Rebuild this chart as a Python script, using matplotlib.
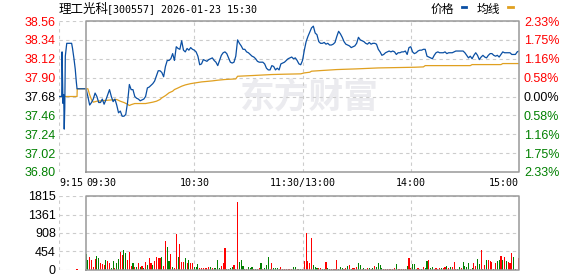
import matplotlib.pyplot as plt
from matplotlib.lines import Line2D

# ---------------- data ----------------
prev_close = 37.68
price_ticks = [36.80, 37.02, 37.24, 37.46, 37.68, 37.90, 38.12, 38.34, 38.56]
pct_labels = ["2.33%", "1.75%", "1.16%", "0.58%", "0.00%",
              "0.58%", "1.16%", "1.75%", "2.33%"]
vol_ticks = [0, 454, 908, 1361, 1815]

# minutes relative to 09:30 (lunch break removed), -15 = 9:15
time_ticks = [-15, 0, 60, 120, 180, 240]
time_labels = ["9:15", "09:30", "10:30", "11:30/13:00", "14:00", "15:00"]

# call auction 9:15-9:30
auction_t = [-15, -13.5, -13.3, -12.8, -12.4, -12.1, -11.8, -11.5, -10.7,
             -8.0, -7.5, -6.7, -6.0, -5.4, -5.0, 0]
auction_price = [37.68, 37.68, 38.20, 37.60, 37.70, 37.30, 37.55, 38.15, 38.30,
                 38.30, 38.24, 38.12, 38.00, 37.85, 37.77, 37.77]
auction_avg_t = [-15, -5.0, -4.9, 0]
auction_avg = [37.68, 37.68, 37.77, 37.77]
auction_vol_t = [-5]
auction_vol = [24]

# one price per minute, 09:30 .. 15:00
price = [
    37.77, 37.68, 37.58, 37.61, 37.65, 37.72, 37.68, 37.61, 37.61, 37.65,
    37.59, 37.64, 37.70, 37.76, 37.68, 37.62, 37.65, 37.58, 37.49, 37.51,
    37.45, 37.45, 37.47, 37.61, 37.82, 37.76, 37.76, 37.68, 37.66, 37.65,
    37.63, 37.64, 37.65, 37.68, 37.78, 37.79, 37.81, 37.83, 37.86, 37.92,
    37.98, 37.98, 37.96, 37.91, 38.03, 38.10, 38.10, 38.12, 38.18, 38.10,
    38.26, 38.24, 38.23, 38.33, 38.22, 38.20, 38.24, 38.22, 38.25, 38.23,
    38.22, 38.20, 38.15, 38.05, 38.06, 38.11, 38.10, 38.09, 38.11, 38.12,
    38.13, 38.10, 38.08, 38.04, 38.10, 38.16, 38.19, 38.20, 38.18, 38.13,
    38.08, 38.07, 38.08, 38.15, 38.34, 38.30, 38.27, 38.23, 38.23, 38.20,
    38.19, 38.17, 38.15, 38.14, 38.12, 38.09, 38.08, 38.08, 38.08, 38.06,
    38.01, 37.99, 37.99, 38.04, 38.03, 37.99, 38.01, 37.99, 38.06, 38.07,
    38.08, 38.10, 38.12, 38.13, 38.14, 38.12, 38.13, 38.10, 38.06, 38.05,
    38.10, 38.22, 38.32, 38.38, 38.43, 38.48, 38.50, 38.42, 38.40, 38.32,
    38.30, 38.30, 38.31, 38.29, 38.30, 38.28, 38.28, 38.29, 38.31, 38.38,
    38.44, 38.41, 38.37, 38.32, 38.29, 38.28, 38.27, 38.25, 38.26, 38.27,
    38.30, 38.37, 38.34, 38.33, 38.32, 38.30, 38.29, 38.31, 38.29, 38.30,
    38.30, 38.29, 38.23, 38.20, 38.16, 38.17, 38.19, 38.20, 38.21, 38.20,
    38.21, 38.20, 38.17, 38.19, 38.19, 38.20, 38.20, 38.21, 38.17, 38.25,
    38.26, 38.20, 38.18, 38.19, 38.21, 38.22, 38.22, 38.23, 38.23, 38.15,
    38.14, 38.13, 38.12, 38.16, 38.19, 38.20, 38.19, 38.19, 38.19, 38.20,
    38.18, 38.19, 38.19, 38.19, 38.20, 38.21, 38.21, 38.21, 38.21, 38.21,
    38.19, 38.16, 38.13, 38.15, 38.12, 38.16, 38.19, 38.16, 38.11, 38.14,
    38.16, 38.14, 38.13, 38.16, 38.18, 38.18, 38.16, 38.15, 38.16, 38.14,
    38.17, 38.20, 38.19, 38.19, 38.19, 38.19, 38.17, 38.17, 38.17, 38.20,
    38.21,
]

avg_t = [0, 1, 2, 3, 4, 6, 10, 17, 19, 21, 23, 24, 25, 27, 33, 35, 37, 39,
         41, 42, 44, 46, 48, 49, 51, 53, 55, 58, 64, 70, 73, 77, 83, 84, 92,
         103, 110, 119, 121, 124, 125, 130, 139, 150, 162, 182, 187, 188,
         213, 214, 230, 231, 240]
avg_price = [37.77, 37.77, 37.70, 37.645, 37.614, 37.625, 37.633, 37.645,
             37.625, 37.61, 37.59, 37.575, 37.585, 37.598, 37.598, 37.606,
             37.614, 37.625, 37.645, 37.664, 37.69, 37.723, 37.742, 37.761,
             37.78, 37.80, 37.815, 37.83, 37.85, 37.862, 37.87, 37.878, 37.885,
             37.916, 37.924, 37.936, 37.94, 37.944, 37.955, 37.963, 37.975,
             37.982, 37.994, 38.002, 38.013, 38.021, 38.025, 38.04, 38.04,
             38.052, 38.052, 38.064, 38.064]

volume = [
    390, 243, 308, 243, 80, 267, 340, 292, 162, 145,
    130, 243, 227, 178, 57, 227, 57, 162, 267, 437,
    365, 486, 405, 243, 437, 97, 162, 81, 81, 178,
    81, 97, 40, 194, 122, 300, 162, 122, 227, 324,
    300, 300, 308, 97, 713, 567, 227, 389, 81, 40,
    875, 324, 632, 202, 202, 292, 178, 243, 162, 178,
    81, 81, 146, 40, 40, 40, 40, 57, 81, 81,
    40, 40, 57, 243, 40, 97, 178, 543, 24, 24,
    40, 81, 122, 24, 1673, 202, 243, 97, 24, 24,
    81, 40, 65, 24, 24, 24, 40, 178, 24, 57,
    122, 324, 24, 162, 40, 57, 40, 24, 65, 24,
    24, 24, 24, 24, 24, 81, 65, 16, 24, 24,
    24, 227, 907, 227, 178, 794, 122, 81, 40, 40,
    57, 24, 32, 202, 40, 24, 24, 24, 24, 243,
    24, 81, 40, 24, 40, 97, 122, 24, 57, 57,
    81, 178, 122, 24, 40, 24, 57, 40, 24, 40,
    97, 81, 178, 122, 57, 24, 24, 24, 24, 24,
    24, 40, 146, 24, 24, 24, 24, 24, 97, 300,
    40, 138, 146, 24, 57, 24, 24, 65, 40, 219,
    243, 40, 81, 24, 57, 24, 40, 40, 40, 65,
    97, 40, 81, 81, 202, 24, 24, 81, 40, 202,
    97, 81, 178, 24, 40, 162, 97, 259, 146, 486,
    24, 122, 243, 243, 227, 202, 24, 178, 227, 243,
    340, 243, 324, 227, 202, 162, 421, 324, 24, 0,
    300,
]
# r = up minute, g = down minute
vol_dir = ("ggrrrrggrr" "rgrrggrggr" "rggrrrgrgr" "grgrgrrgrr" "rrgrrggrgr"
           "rgrrrgrgrr" "gggrrrrrrg" "rggggrrrgg" "ggrgrggggr" "gggrgrrgrg"
           "ggrrgggrrr" "rrrrrggrgg" "rrrrrrgggr" "rggrggrrrr" "gggrrgrgrr"
           "rggrgrrgrg" "rggggrrrrr" "rrgrrrrrgr" "rgggrrgrgg" "rggrrrrgrr"
           "grgrrrggrg" "gggrgrrggr" "grgrrrgrgg" "rgrgrrrgrr" "r")

# ---------------- style ----------------
UP = "#ff0000"
DOWN = "#008000"
PRICE_C = "#0a4fa3"
AVG_C = "#e0a020"
FRAME_C = "#999999"
GRID_C = "#cccccc"
W, H = 578, 276

plt.rcParams['font.family'] = ['Liberation Sans', 'Noto Sans CJK SC', 'DejaVu Sans']
fig = plt.figure(figsize=(W / 100, H / 100), dpi=100)

minutes = list(range(len(price)))
dash = (0, (3, 3))


def setup_panel(ax, ylo, yhi, yticks):
    ax.set_xlim(-15, 240)
    ax.set_ylim(ylo, yhi)
    for s in ax.spines.values():
        s.set_visible(False)
    for y in yticks:
        ax.axhline(y, color=GRID_C, lw=0.8, ls=dash, zorder=1)
    for x in [-15, 60, 120, 180]:
        ax.axvline(x, color=GRID_C, lw=0.8, ls=dash, zorder=1)
    # frame only around continuous trading session
    ax.plot([0, 0, 240, 240, 0], [ylo, yhi, yhi, ylo, ylo], color=FRAME_C,
            lw=1.1, clip_on=False, zorder=4)
    ax.set_yticks(yticks)
    ax.tick_params(axis='y', length=0, pad=2.2, labelsize=9)


# ---- price panel ----
ax = fig.add_axes([59 / W, 1 - 172 / H, 460 / W, 151 / H])
setup_panel(ax, price_ticks[0], price_ticks[-1], price_ticks)
ax.set_yticklabels([f"{p:.2f}" for p in price_ticks])
for lbl, p in zip(ax.get_yticklabels(), price_ticks):
    lbl.set_color(UP if p > prev_close + 1e-6 else (DOWN if p < prev_close - 1e-6 else "black"))

ax.set_xticks(time_ticks)
ax.set_xticklabels(time_labels, family='DejaVu Sans Mono', fontsize=7.2)
ax.tick_params(axis='x', length=0, pad=4.5)
for lbl, ha in zip(ax.get_xticklabels(), ['left', 'left', 'center', 'center', 'center', 'right']):
    lbl.set_horizontalalignment(ha)

ax.text(309 / W, 1 - 97 / H, "东方财富", transform=fig.transFigure, ha='center', va='center',
        fontsize=25, fontweight='bold', color='#ebebef', family='Noto Sans CJK SC', zorder=0)

ax.plot(auction_avg_t + avg_t, auction_avg + avg_price, color=AVG_C, lw=0.9, zorder=3)
ax.plot(auction_t + minutes, auction_price + price, color=PRICE_C, lw=0.9, zorder=3)

rax = ax.twinx()
rax.set_ylim(price_ticks[0], price_ticks[-1])
for s in rax.spines.values():
    s.set_visible(False)
rax.set_yticks(price_ticks)
rax.set_yticklabels(pct_labels)
rax.tick_params(axis='y', length=0, pad=3.6, labelsize=9)
for lbl, p in zip(rax.get_yticklabels(), price_ticks):
    lbl.set_color(UP if p > prev_close + 1e-6 else (DOWN if p < prev_close - 1e-6 else "black"))

# ---- volume panel ----
vax = fig.add_axes([59 / W, 1 - 270 / H, 460 / W, 74 / H])
setup_panel(vax, 0, vol_ticks[-1], vol_ticks)
vax.set_yticklabels([str(v) for v in vol_ticks])
vax.set_xticks([])
bar_colors = [UP if d == 'r' else DOWN for d in vol_dir]
vax.bar(minutes, volume, width=0.6, color=bar_colors, linewidth=0, zorder=2)
vax.bar(auction_vol_t, auction_vol, width=0.6, color=UP, linewidth=0, zorder=2)

# ---- title and legend ----
fig.text(59 / W, 1 - 9 / H, "理工光科", fontsize=9, va='center', ha='left',
         family='Noto Sans CJK SC')
fig.text(107 / W, 1 - 9 / H, "[300557] 2026-01-23 15:30", fontsize=7.2, va='center',
         ha='left', family='DejaVu Sans Mono')

fig.text(431 / W, 1 - 9.5 / H, "价格", fontsize=8.5, va='center', ha='left',
         family='Noto Sans CJK SC')
fig.add_artist(Line2D([461.5 / W, 466 / W], [1 - 7 / H, 1 - 7 / H], color=PRICE_C, lw=2))
fig.text(476.5 / W, 1 - 9.5 / H, "均线", fontsize=8.5, va='center', ha='left',
         family='Noto Sans CJK SC')
fig.add_artist(Line2D([508 / W, 512.5 / W], [1 - 7 / H, 1 - 7 / H], color=AVG_C, lw=2))

fig.savefig("out.png", dpi=100)
